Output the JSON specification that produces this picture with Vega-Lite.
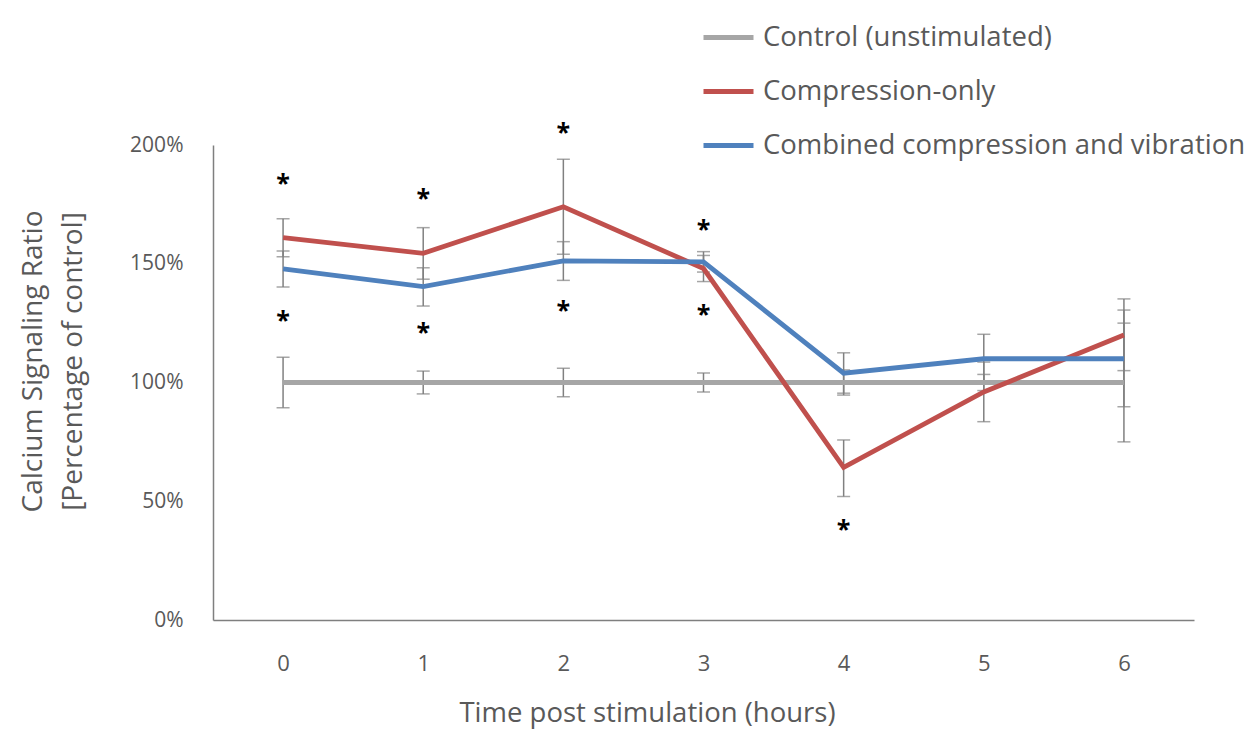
{
  "$schema": "https://vega.github.io/schema/vega-lite/v6.json",
  "width": 981,
  "height": 475,
  "autosize": {"type": "none"},
  "padding": {"left": 213, "top": 145, "right": 59, "bottom": 127},
  "background": "white",
  "config": {
    "view": {"stroke": null},
    "font": "Open Sans",
    "text": {"font": "Open Sans"}
  },
  "datasets": {
    "series": [
      {"time": "0", "series": "Control (unstimulated)", "value": 100, "lo": 89.4, "hi": 110.6},
      {"time": "1", "series": "Control (unstimulated)", "value": 100, "lo": 95.2, "hi": 104.8},
      {"time": "2", "series": "Control (unstimulated)", "value": 100, "lo": 94, "hi": 106},
      {"time": "3", "series": "Control (unstimulated)", "value": 100, "lo": 96, "hi": 104},
      {"time": "4", "series": "Control (unstimulated)", "value": 100, "lo": 94.7, "hi": 105.3},
      {"time": "5", "series": "Control (unstimulated)", "value": 100, "lo": 96.6, "hi": 103.4},
      {"time": "6", "series": "Control (unstimulated)", "value": 100, "lo": 75, "hi": 125},
      {"time": "0", "series": "Compression-only", "value": 161, "lo": 153, "hi": 169},
      {"time": "1", "series": "Compression-only", "value": 154.4, "lo": 143.5, "hi": 165.2},
      {"time": "2", "series": "Compression-only", "value": 174, "lo": 154, "hi": 194},
      {"time": "3", "series": "Compression-only", "value": 148, "lo": 142.5, "hi": 153.5},
      {"time": "4", "series": "Compression-only", "value": 64.3, "lo": 52, "hi": 75.8},
      {"time": "5", "series": "Compression-only", "value": 96, "lo": 83.5, "hi": 108.6},
      {"time": "6", "series": "Compression-only", "value": 120, "lo": 105, "hi": 135.2},
      {"time": "0", "series": "Combined compression and vibration", "value": 147.8, "lo": 140.2, "hi": 155.4},
      {"time": "1", "series": "Combined compression and vibration", "value": 140.4, "lo": 132.2, "hi": 148.3},
      {"time": "2", "series": "Combined compression and vibration", "value": 151.2, "lo": 143, "hi": 159.3},
      {"time": "3", "series": "Combined compression and vibration", "value": 150.8, "lo": 146.5, "hi": 155.1},
      {"time": "4", "series": "Combined compression and vibration", "value": 103.9, "lo": 95.5, "hi": 112.5},
      {"time": "5", "series": "Combined compression and vibration", "value": 110, "lo": 99.8, "hi": 120.3},
      {"time": "6", "series": "Combined compression and vibration", "value": 110, "lo": 89.8, "hi": 130.5}
    ],
    "stars": [
      {"time": "0", "y": 186.4}, {"time": "0", "y": 128.8},
      {"time": "1", "y": 180.3}, {"time": "1", "y": 123.9},
      {"time": "2", "y": 208}, {"time": "2", "y": 133},
      {"time": "3", "y": 167}, {"time": "3", "y": 131.5},
      {"time": "4", "y": 41}
    ]
  },
  "encoding": {
    "x": {
      "field": "time", "type": "ordinal",
      "scale": {"type": "point", "padding": 0.5, "domain": ["0","1","2","3","4","5","6"]},
      "axis": {
        "title": "Time post stimulation (hours)",
        "labelAngle": 0,
        "labelFontSize": 22,
        "labelColor": "#595959",
        "labelPadding": 33,
        "ticks": false,
        "domainColor": "#7f7f7f",
        "domainWidth": 1.5,
        "titleFontSize": 27.5,
        "titleFontWeight": "normal",
        "titleColor": "#595959",
        "titleX": 434,
        "titleY": 93,
        "titleBaseline": "middle",
        "titleAlign": "center"
      }
    }
  },
  "layer": [
    {
      "data": {"name": "series"},
      "mark": {"type": "rule", "color": "#808080", "strokeWidth": 1.5},
      "encoding": {
        "y": {"field": "lo", "type": "quantitative"},
        "y2": {"field": "hi"}
      }
    },
    {
      "data": {"name": "series"},
      "mark": {"type": "tick", "color": "#808080", "thickness": 1.5, "size": 13},
      "encoding": {"y": {"field": "lo", "type": "quantitative"}}
    },
    {
      "data": {"name": "series"},
      "mark": {"type": "tick", "color": "#808080", "thickness": 1.5, "size": 13},
      "encoding": {"y": {"field": "hi", "type": "quantitative"}}
    },
    {
      "data": {"name": "series"},
      "mark": {"type": "line", "strokeWidth": 4.8},
      "encoding": {
        "y": {
          "field": "value", "type": "quantitative",
          "scale": {"domain": [0, 200], "nice": false, "zero": true},
          "axis": {
            "values": [0, 50, 100, 150, 200],
            "labelExpr": "datum.value + '%'",
            "grid": false,
            "ticks": false,
            "labelPadding": 30,
            "labelFontSize": 21,
            "labelColor": "#595959",
            "domainColor": "#7f7f7f",
            "domainWidth": 1.5,
            "title": ["Calcium Signaling Ratio", "[Percentage of control]"],
            "titleFontSize": 28,
            "titleFontWeight": "normal",
            "titleColor": "#595959",
            "titleLineHeight": 40,
            "titleX": -180,
            "titleY": 216,
            "titleAngle": -90,
            "titleAlign": "center",
            "titleBaseline": "middle"
          }
        },
        "color": {
          "field": "series", "type": "nominal",
          "scale": {
            "domain": ["Control (unstimulated)", "Compression-only", "Combined compression and vibration"],
            "range": ["#a6a6a6", "#c0504d", "#4f81bd"]
          },
          "legend": {
            "title": null,
            "orient": "none",
            "legendX": 488,
            "legendY": -135,
            "symbolType": "stroke",
            "symbolSize": 2500,
            "symbolStrokeWidth": 4.8,
            "labelFontSize": 27.5,
            "labelColor": "#595959",
            "labelOffset": 7,
            "rowPadding": 13,
            "labelLimit": 700
          }
        }
      }
    },
    {
      "data": {"name": "stars"},
      "mark": {"type": "text", "text": "*", "fontSize": 25, "fontWeight": "bold", "color": "#000000", "baseline": "alphabetic", "dy": 15},
      "encoding": {
        "y": {"field": "y", "type": "quantitative"}
      }
    }
  ]
}
